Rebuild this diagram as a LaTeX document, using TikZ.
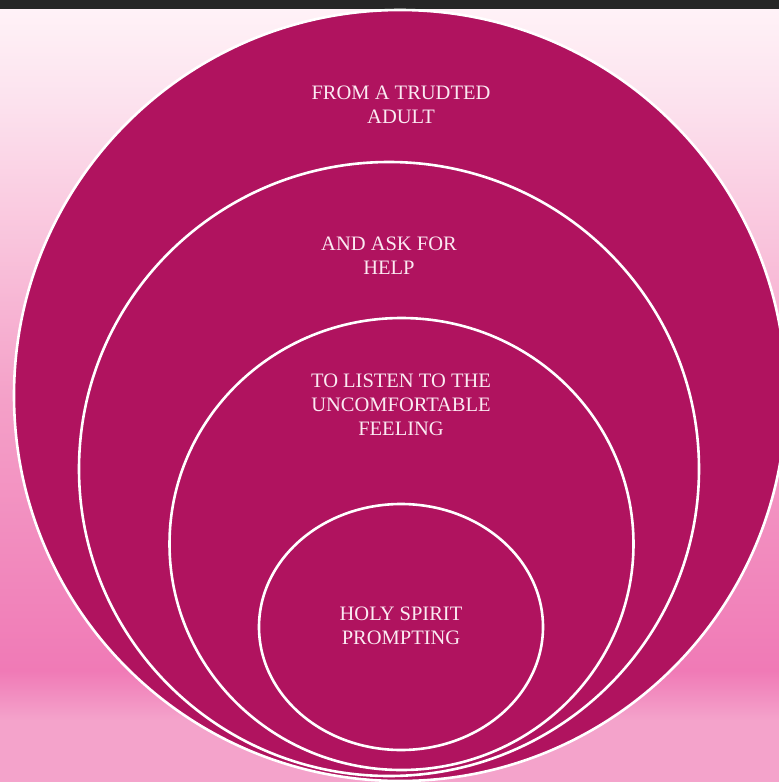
\documentclass[tikz,border=0pt]{standalone}
\usepackage{fontspec}
\setmainfont{Liberation Serif}
\definecolor{ringfill}{HTML}{B0135F}
\definecolor{topbar}{HTML}{262626}
\definecolor{txtc}{HTML}{FBEAF2}
\definecolor{BgA}{HTML}{F4A3CB}
\definecolor{BgB}{HTML}{F07AB6}
\definecolor{BgC}{HTML}{F4A0C8}
\definecolor{BgD}{HTML}{F9C2DB}
\definecolor{BgF}{HTML}{FCE2EE}
\definecolor{BgE}{HTML}{FFF2F7}
\pgfdeclareverticalshading{bgshade}{100bp}{
  color(0bp)=(BgA);
  color(25bp)=(BgA);
  color(29bp)=(BgA);
  color(32.2bp)=(BgB);
  color(49.7bp)=(BgC);
  color(59.4bp)=(BgD);
  color(69bp)=(BgF);
  color(75bp)=(BgE);
  color(100bp)=(BgE)
}
\tikzset{
  ring/.style={fill=ringfill, draw=white, line width=2.6pt},
  lbl/.style={text=txtc, align=center, font=\fontsize{20.5}{24}\selectfont, inner sep=0pt}
}
\begin{document}
\begin{tikzpicture}[x=1pt,y=-1pt]
\useasboundingbox (0,0) rectangle (779,782);
\clip (0,0) rectangle (779,782);
\shade[shading=bgshade] (0,9) rectangle (779,782);
\fill[topbar] (0,0) rectangle (779,9);
\coordinate (c1) at (400,395.5);
\coordinate (c2) at (389,469);
\coordinate (c3) at (401.5,544);
\coordinate (c4) at (401,627);
\draw[ring] (c1) ellipse [x radius=386, y radius=385.5];
\draw[ring] (c2) ellipse [x radius=310, y radius=307];
\draw[ring] (c3) ellipse [x radius=232, y radius=226];
\draw[ring] (c4) ellipse [x radius=142, y radius=123];
\node[lbl] (t1) at (401,105) {FROM A TRUDTED\\ADULT};
\node[lbl] (t2) at (389,256) {AND ASK FOR\\HELP};
\node[lbl] (t3) at (401,405) {TO LISTEN TO THE\\UNCOMFORTABLE\\FEELING};
\node[lbl] (t4) at (401,626) {HOLY SPIRIT\\PROMPTING};
\end{tikzpicture}
\end{document}
